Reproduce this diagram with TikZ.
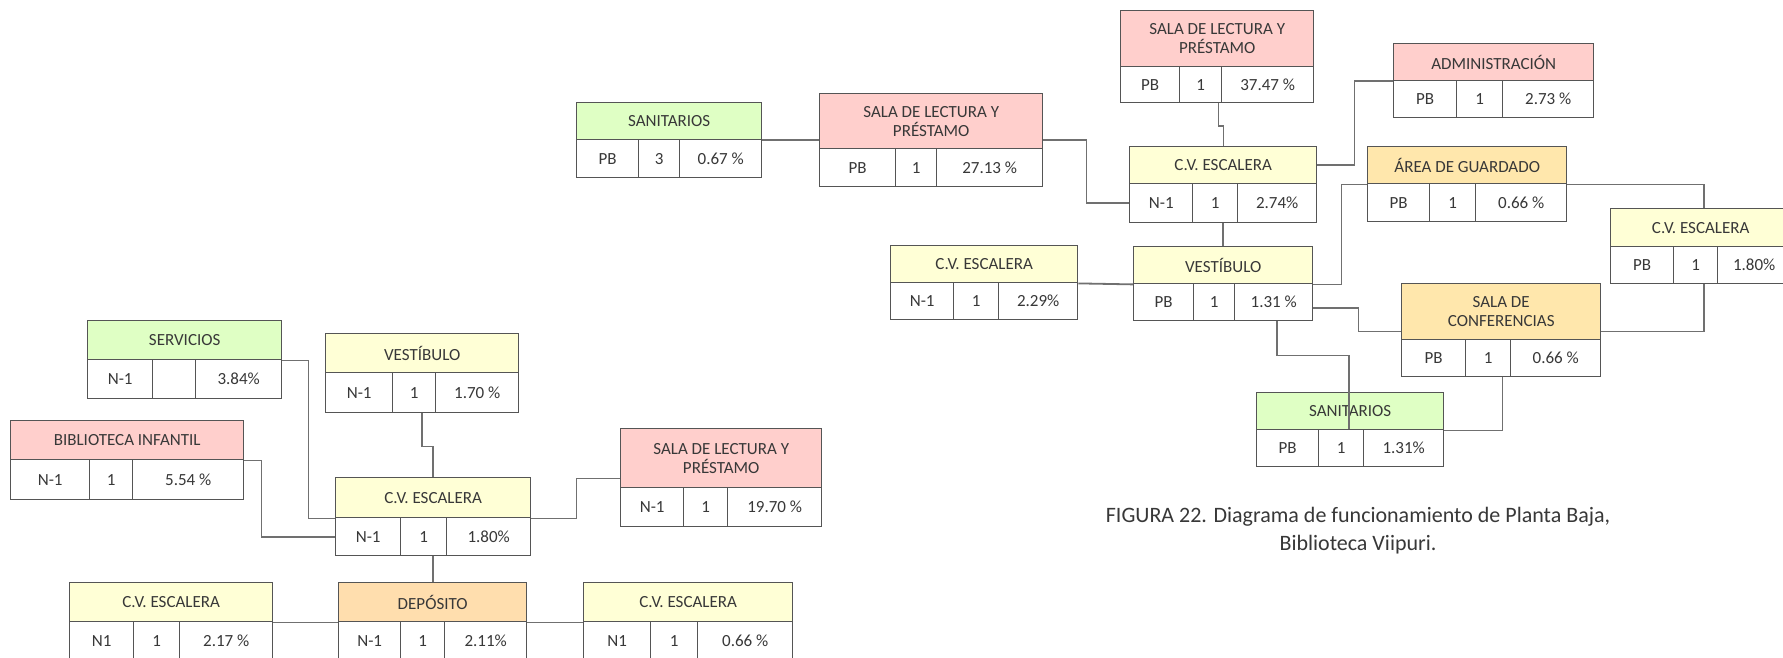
\documentclass[tikz,border=0pt]{standalone}
\usepackage{fontspec}
\setmainfont{Carlito}

\definecolor{boxline}{HTML}{555555}
\definecolor{linkline}{HTML}{707070}
\definecolor{txt}{HTML}{383838}
\definecolor{fpink}{HTML}{FFCFCC}
\definecolor{fgreen}{HTML}{DFFFC4}
\definecolor{fyellow}{HTML}{FFFFD6}
\definecolor{famber}{HTML}{FFE7AC}
\definecolor{fpeach}{HTML}{FFDEAE}

% split "x1/d1/d2/x2" and "top/mid/bottom"
\def\rbSplitX#1/#2/#3/#4\relax{\def\rbXa{#1}\def\rbXb{#2}\def\rbXc{#3}\def\rbXd{#4}}
\def\rbSplitY#1/#2/#3\relax{\def\rbYa{#1}\def\rbYb{#2}\def\rbYc{#3}}

% room box: coloured title bar over a row of three cells
% #1 name, #2 x1/d1/d2/x2, #3 top/mid/bottom, #4 fill, #5 title, #6-#8 cells
\newcommand\roombox[8]{%
  \rbSplitX#2\relax\rbSplitY#3\relax
  \node[hdrbox,fill=#4,minimum width={\rbXd-\rbXa},minimum height={\rbYb-\rbYa}]
    (#1-h) at (\rbXa,\rbYa) {#5};
  \node[cellbox,minimum width={\rbXb-\rbXa},minimum height={\rbYc-\rbYb}]
    (#1-a) at (\rbXa,\rbYb) {#6};
  \node[cellbox,minimum width={\rbXc-\rbXb},minimum height={\rbYc-\rbYb}]
    (#1-b) at (\rbXb,\rbYb) {#7};
  \node[cellbox,minimum width={\rbXd-\rbXc},minimum height={\rbYc-\rbYb}]
    (#1-c) at (\rbXc,\rbYb) {#8};
}

\begin{document}
\begin{tikzpicture}[x=1pt,y=-1pt,
  cellbox/.style={draw=boxline,line width=1.4pt,anchor=north west,inner sep=0pt,
    align=center,text=txt,font=\fontsize{17}{19}\selectfont},
  hdrbox/.style={cellbox},
  link/.style={draw=linkline,line width=1.8pt},
  caption/.style={anchor=base,text=txt,font=\fontsize{22}{28}\selectfont,inner sep=0pt}]

\useasboundingbox (0,0) rectangle (1783,658);
\clip (0,0) rectangle (1783,658);
\fill[white] (0,0) rectangle (1783,658);

% ---- planta baja ----
\roombox{san1}{576/638/679/761}{102/139/177}{fgreen}{SANITARIOS}{PB}{3}{0.67 \%}
\roombox{sala1}{819/895/936/1042}{93/148/186}{fpink}{SALA DE LECTURA Y\\PRÉSTAMO}{PB}{1}{27.13 \%}
\roombox{sala2}{1120/1179/1221/1313}{10/66/102}{fpink}{SALA DE LECTURA Y\\PRÉSTAMO}{PB}{1}{37.47 \%}
\roombox{adm}{1393/1456/1502/1593}{43/80/117}{fpink}{ADMINISTRACIÓN}{PB}{1}{2.73 \%}
\roombox{cv1}{1129/1192/1237/1316}{146/183/222}{fyellow}{C.V. ESCALERA}{N-1}{1}{2.74\%}
\roombox{area}{1367/1429/1475/1566}{146/183/221}{famber}{ÁREA DE GUARDADO}{PB}{1}{0.66 \%}
\roombox{cv2}{1610/1673/1717/1790}{208/246/283}{fyellow}{C.V. ESCALERA}{PB}{1}{1.80\%}
\roombox{cv3}{890/953/998/1077}{245/282/319}{fyellow}{C.V. ESCALERA}{N-1}{1}{2.29\%}
\roombox{vest1}{1133/1193/1234/1312}{246/283/320}{fyellow}{VESTÍBULO}{PB}{1}{1.31 \%}
\roombox{conf}{1401/1465/1510/1600}{283/339/376}{famber}{SALA DE\\CONFERENCIAS}{PB}{1}{0.66 \%}
\roombox{san2}{1256/1318/1363/1443}{392/429/466}{fgreen}{SANITARIOS}{PB}{1}{1.31\%}

% ---- nivel -1 ----
\roombox{serv}{87/152/195/281}{320/359/398}{fgreen}{SERVICIOS}{N-1}{}{3.84\%}
\roombox{vest2}{325/392/435/518}{333/372/412}{fyellow}{VESTÍBULO}{N-1}{1}{1.70 \%}
\roombox{bib}{10/89/132/243}{420/459/499}{fpink}{BIBLIOTECA INFANTIL}{N-1}{1}{5.54 \%}
\roombox{cv4}{335/400/446/530}{477/517/555}{fyellow}{C.V. ESCALERA}{N-1}{1}{1.80\%}
\roombox{sala3}{620/683/727/821}{428/487/526}{fpink}{SALA DE LECTURA Y\\PRÉSTAMO}{N-1}{1}{19.70 \%}
\roombox{cv5}{69/133/179/272}{582/621/660}{fyellow}{C.V. ESCALERA}{N1}{1}{2.17 \%}
\roombox{dep}{338/400/444/526}{582/621/660}{fpeach}{DEPÓSITO}{N-1}{1}{2.11\%}
\roombox{cv6}{583/650/697/792}{582/621/660}{fyellow}{C.V. ESCALERA}{N1}{1}{0.66 \%}

% ---- connectors, planta baja ----
\draw[link] (san1-h.south east) -- (sala1-h.west |- san1-h.south east);
\draw[link] (sala1-h.east |- san1-h.south) -- ++(43,0) |- (cv1-a.west);
\draw[link] ([xshift=-4pt]sala2-b.south east) -- ++(0,23) -- ++(5,0)
  -- ([xshift=1pt]sala2-b.south east |- cv1-h.north);
\draw[link] (cv1-h.east) -- ++(37,0) |- (adm-h.south west);
\draw[link] ([xshift=8pt]cv1-b.south) -- ([xshift=8pt]cv1-b.south |- vest1-h.north);
\draw[link] (cv3-h.south east) -- (vest1-h.south west);
\draw[link] (vest1-h.south east) -- ++(28,0) |- (area-h.south west);
\draw[link] (area-h.south east) -| ([xshift=3pt]cv2-h.north);
\draw[link] ([yshift=-5.5pt]vest1-c.east) -- ++(45,0) |- ([yshift=9pt]conf-h.south west);
\draw[link] ([yshift=9pt]conf-h.south east) -| ([xshift=8pt]cv2-b.south);
\draw[link] ([xshift=3pt]vest1-c.south) -- ++(0,34) -| ([xshift=8pt]san2-b.north);
\draw[link] ([xshift=-9pt]conf-b.south east) |- (san2-h.south east);

% ---- connectors, nivel -1 ----
\draw[link] (serv-h.south east) -- ++(26,0) |- (cv4-h.south west);
\draw[link] (bib-h.south east) -- ++(17,0) |- (cv4-a.west);
\draw[link] ([xshift=8pt]vest2-b.south) -- ++(0,33) -| (cv4-h.north);
\draw[link] (cv4-h.south east) -- ++(45,0) |- ([yshift=10pt]sala3-h.south west);
\draw[link] (dep-h.north |- cv4-b.south) -- (dep-h.north);
\draw[link] (cv5-h.south east) -- (dep-h.south west);
\draw[link] (dep-h.south east) -- (cv6-h.south west);

% ---- caption ----
\node[caption] (cap1) at (1358,522) {FIGURA 22. Diagrama de funcionamiento de Planta Baja,};
\node[caption] (cap2) at (1358,550) {Biblioteca Viipuri.};
\end{tikzpicture}
\end{document}
